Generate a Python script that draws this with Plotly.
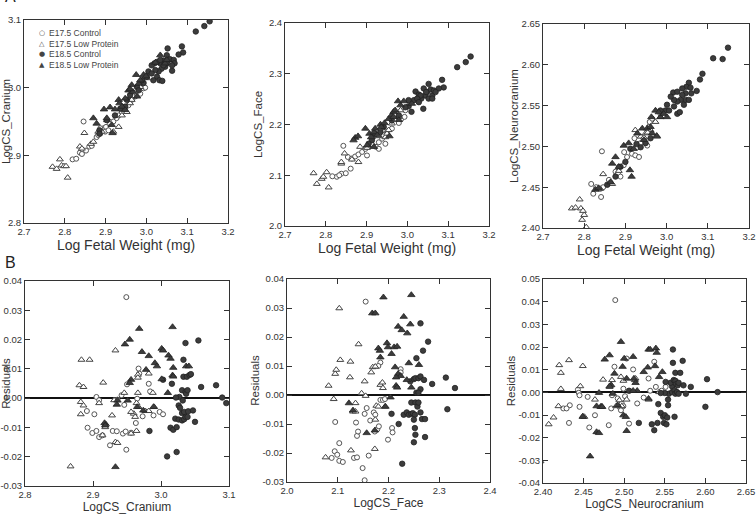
import plotly.graph_objects as go

# ---------------- DATA ----------------
series_names = ["E17.5 Control", "E17.5 Low Protein", "E18.5 Control", "E18.5 Low Protein"]
legend_glyphs = ["○", "△", "●", "▲"]

# Panel A1: Log Fetal Weight vs LogCS_Cranium
a1_c17_x = [2.846, 2.819, 2.828, 2.837, 2.844, 2.852, 2.860, 2.866, 2.842, 2.878, 2.882, 2.887, 2.891, 2.895, 2.901, 2.911, 2.919, 2.927, 2.932, 2.940, 2.948, 2.956, 2.964, 2.973, 2.985, 2.993, 2.997, 2.899, 2.907, 2.887]
a1_c17_y = [2.950, 2.894, 2.895, 2.904, 2.908, 2.907, 2.913, 2.914, 2.902, 2.927, 2.930, 2.932, 2.937, 2.940, 2.942, 2.947, 2.950, 2.955, 2.959, 2.964, 2.969, 2.974, 2.982, 2.987, 2.991, 2.999, 3.000, 2.935, 2.937, 2.940]
a1_l17_x = [2.770, 2.780, 2.788, 2.792, 2.798, 2.803, 2.807, 2.848, 2.837, 2.842, 2.864, 2.870, 2.882, 2.891, 2.903, 2.919, 2.932, 2.940, 2.952, 2.960, 2.968, 2.985, 3.001, 2.964]
a1_l17_y = [2.883, 2.880, 2.894, 2.885, 2.884, 2.884, 2.867, 2.933, 2.913, 2.910, 2.917, 2.920, 2.935, 2.935, 2.952, 2.935, 2.942, 2.959, 2.964, 2.977, 2.987, 3.001, 3.014, 2.982]
a1_c18_x = [3.155, 3.142, 3.121, 3.087, 3.090, 3.079, 3.052, 3.050, 3.063, 3.042, 3.034, 3.026, 3.020, 3.013, 3.005, 3.001, 3.026, 3.032, 3.039, 3.017, 2.993, 2.989, 3.054, 3.058, 3.067, 3.069, 3.046, 3.037, 3.030, 3.022, 3.013, 2.960, 2.952, 2.948, 2.936, 2.923, 2.903, 2.885, 2.885, 2.977, 2.981, 3.050, 3.042, 3.034, 3.063]
a1_c18_y = [3.098, 3.091, 3.083, 3.061, 3.052, 3.049, 3.058, 3.048, 3.025, 3.040, 3.036, 3.038, 3.036, 3.033, 3.024, 3.016, 3.016, 3.011, 3.010, 3.011, 3.007, 3.011, 3.041, 3.042, 3.041, 3.036, 3.031, 3.028, 3.024, 3.026, 3.021, 2.989, 2.982, 2.972, 2.969, 2.959, 2.952, 2.937, 2.932, 3.001, 2.996, 3.036, 3.033, 3.041, 3.033]
a1_l18_x = [2.870, 2.878, 2.896, 2.903, 2.915, 2.917, 2.911, 2.923, 2.932, 2.934, 2.940, 2.948, 2.956, 2.964, 2.967, 2.975, 2.981, 2.985, 2.993, 2.999, 3.022, 3.034, 3.046, 3.050, 2.977, 2.948, 2.960]
a1_l18_y = [2.955, 2.947, 2.968, 2.955, 2.945, 2.933, 2.971, 2.968, 2.982, 2.977, 2.972, 2.984, 2.996, 3.004, 2.994, 3.019, 3.006, 3.011, 3.019, 3.017, 3.037, 3.048, 3.036, 3.041, 2.987, 2.967, 2.998]

# Panel A2: Log Fetal Weight vs LogCS_Face
a2_c17_x = [2.843, 2.838, 2.827, 2.833, 2.816, 2.849, 2.861, 2.854, 2.864, 2.872, 2.880, 2.889, 2.897, 2.905, 2.913, 2.923, 2.930, 2.938, 2.942, 2.950, 2.962, 2.979, 2.985, 2.993, 2.995, 2.901, 2.930, 2.946]
a2_c17_y = [2.158, 2.103, 2.097, 2.100, 2.098, 2.104, 2.113, 2.136, 2.133, 2.137, 2.141, 2.146, 2.152, 2.157, 2.161, 2.156, 2.165, 2.172, 2.179, 2.185, 2.192, 2.203, 2.211, 2.215, 2.228, 2.139, 2.152, 2.162]
a2_l17_x = [2.770, 2.778, 2.790, 2.794, 2.802, 2.807, 2.838, 2.846, 2.838, 2.864, 2.880, 2.884, 2.901, 2.913, 2.930, 2.946, 2.950, 2.962, 2.979, 2.983, 2.954]
a2_l17_y = [2.104, 2.083, 2.093, 2.097, 2.106, 2.076, 2.123, 2.143, 2.126, 2.131, 2.126, 2.156, 2.154, 2.175, 2.177, 2.175, 2.182, 2.202, 2.215, 2.228, 2.189]
a2_c18_x = [3.155, 3.143, 3.122, 3.085, 3.089, 3.077, 3.052, 3.040, 3.020, 3.028, 3.016, 3.010, 3.003, 3.039, 3.044, 3.048, 3.057, 3.061, 3.065, 3.034, 3.032, 3.024, 3.052, 3.061, 3.069, 3.046, 3.028, 2.995, 2.979, 2.962, 2.942, 2.934, 2.921, 2.913, 2.905, 3.003]
a2_c18_y = [2.334, 2.323, 2.313, 2.288, 2.273, 2.271, 2.280, 2.271, 2.265, 2.259, 2.248, 2.225, 2.236, 2.231, 2.257, 2.264, 2.269, 2.257, 2.267, 2.251, 2.257, 2.251, 2.251, 2.251, 2.264, 2.264, 2.244, 2.234, 2.218, 2.208, 2.195, 2.185, 2.182, 2.169, 2.162, 2.248]
a2_l18_x = [2.872, 2.879, 2.868, 2.897, 2.901, 2.907, 2.911, 2.918, 2.921, 2.926, 2.934, 2.936, 2.944, 2.954, 2.961, 2.966, 2.977, 2.983, 2.991, 2.966, 2.970, 2.979, 2.918, 2.956, 3.011]
a2_l18_y = [2.174, 2.177, 2.169, 2.192, 2.159, 2.182, 2.175, 2.185, 2.192, 2.179, 2.200, 2.195, 2.203, 2.211, 2.218, 2.225, 2.246, 2.238, 2.246, 2.215, 2.228, 2.209, 2.156, 2.177, 2.241]

# Panel A3: Log Fetal Weight vs LogCS_Neurocranium
a3_c17_x = [2.843, 2.817, 2.822, 2.829, 2.839, 2.846, 2.841, 2.860, 2.864, 2.876, 2.884, 2.882, 2.888, 2.896, 2.897, 2.904, 2.916, 2.922, 2.924, 2.933, 2.937, 2.945, 2.957, 2.959, 2.953, 2.965, 2.985, 2.929]
a3_c17_y = [2.494, 2.454, 2.442, 2.450, 2.448, 2.450, 2.438, 2.459, 2.456, 2.469, 2.475, 2.467, 2.463, 2.477, 2.493, 2.487, 2.491, 2.510, 2.489, 2.487, 2.504, 2.508, 2.524, 2.530, 2.501, 2.534, 2.540, 2.499]
a3_l17_x = [2.770, 2.779, 2.789, 2.792, 2.797, 2.800, 2.795, 2.805, 2.846, 2.839, 2.868, 2.884, 2.924, 2.937, 2.945, 2.949, 2.961, 2.973, 2.985, 2.954, 2.977]
a3_l17_y = [2.424, 2.425, 2.435, 2.424, 2.421, 2.416, 2.410, 2.401, 2.466, 2.448, 2.454, 2.470, 2.520, 2.512, 2.511, 2.516, 2.520, 2.530, 2.536, 2.517, 2.512]
a3_c18_x = [3.149, 3.113, 3.136, 3.087, 3.081, 3.073, 3.054, 3.048, 3.058, 3.046, 3.046, 3.038, 3.034, 3.026, 3.018, 3.016, 3.010, 3.001, 2.997, 3.006, 3.018, 3.026, 3.032, 3.042, 3.054, 3.060, 3.038, 3.026, 2.961, 2.949, 2.937, 2.927, 2.912, 2.900, 2.888, 2.876, 2.856, 2.985]
a3_c18_y = [2.621, 2.608, 2.607, 2.589, 2.582, 2.568, 2.578, 2.573, 2.572, 2.565, 2.557, 2.563, 2.557, 2.555, 2.557, 2.566, 2.561, 2.551, 2.544, 2.544, 2.549, 2.540, 2.542, 2.551, 2.557, 2.565, 2.571, 2.567, 2.510, 2.504, 2.499, 2.503, 2.497, 2.481, 2.475, 2.463, 2.453, 2.544]
a3_l18_x = [2.827, 2.835, 2.864, 2.868, 2.876, 2.896, 2.884, 2.911, 2.915, 2.908, 2.920, 2.929, 2.941, 2.953, 2.961, 2.963, 2.973, 2.981, 2.985, 2.993, 3.001, 2.976, 2.965, 2.945]
a3_l18_y = [2.447, 2.449, 2.456, 2.479, 2.487, 2.501, 2.475, 2.471, 2.463, 2.504, 2.497, 2.516, 2.522, 2.522, 2.524, 2.536, 2.544, 2.542, 2.536, 2.540, 2.536, 2.513, 2.516, 2.508]

# Panel B1: LogCS_Cranium vs Residuals
b1_c17_x = [2.949, 2.891, 2.902, 2.892, 2.899, 2.905, 2.909, 2.914, 2.905, 2.909, 2.925, 2.929, 2.935, 2.944, 2.948, 2.956, 2.949, 2.946, 2.936, 2.942, 2.950, 2.963, 2.968, 2.967, 2.973, 2.984, 2.989, 2.998, 3.003, 2.982, 2.965]
b1_c17_y = [0.0345, -0.0044, -0.0055, -0.0101, -0.0119, -0.0112, -0.0133, -0.0127, 0.0004, -0.0007, -0.0161, -0.0112, -0.0113, -0.0121, -0.0114, -0.0118, -0.0176, -0.0023, -0.0005, 0.0010, 0.0047, -0.0085, 0.0084, 0.0101, -0.0062, 0.0023, -0.0059, -0.0047, -0.0055, 0.0049, -0.0002]
b1_l17_x = [2.867, 2.880, 2.886, 2.882, 2.886, 2.882, 2.883, 2.895, 2.909, 2.915, 2.919, 2.914, 2.918, 2.928, 2.933, 2.931, 2.933, 2.936, 2.946, 2.956, 2.960, 2.962, 2.964, 2.964, 2.966, 2.966, 2.966, 2.967, 2.977, 2.982, 2.982, 2.988, 2.990, 2.956]
b1_l17_y = [-0.0233, 0.0044, 0.0038, -0.0013, -0.0025, -0.0055, 0.0131, 0.0131, -0.0017, 0.0053, -0.0089, -0.0127, -0.0099, -0.0059, 0.0163, -0.0007, -0.0150, -0.0153, 0.0018, -0.0121, -0.0053, -0.0064, -0.0017, -0.0112, 0.0080, 0.0070, 0.0018, -0.0030, -0.0044, 0.0084, -0.0044, 0.0018, -0.0030, -0.0047]
b1_c18_x = [3.009, 3.023, 2.983, 3.014, 3.018, 3.023, 3.021, 3.026, 3.031, 3.034, 3.036, 3.039, 3.031, 3.034, 3.040, 3.047, 3.050, 3.027, 3.031, 3.036, 3.037, 3.039, 3.022, 3.026, 3.028, 3.032, 3.033, 3.038, 3.042, 3.044, 3.033, 3.036, 3.055, 3.059, 3.081, 3.090, 3.096, 3.003, 3.016]
b1_c18_y = [-0.0199, -0.0184, -0.0112, -0.0101, -0.0108, -0.0099, -0.0070, -0.0073, -0.0076, -0.0072, -0.0064, -0.0064, -0.0051, -0.0047, -0.0045, -0.0042, -0.0081, 0.0004, 0.0027, 0.0021, 0.0015, 0.0027, 0.0002, -0.0025, -0.0033, -0.0008, 0.0073, 0.0073, 0.0079, 0.0082, 0.0131, 0.0188, 0.0197, 0.0038, 0.0044, 0.0002, -0.0017, 0.0063, 0.0049]
b1_l18_x = [2.968, 3.017, 2.954, 2.947, 2.972, 2.982, 2.991, 2.994, 3.001, 3.003, 3.011, 3.014, 3.018, 3.017, 3.018, 3.001, 2.978, 2.956, 2.954, 3.010, 2.936, 2.935, 2.951, 2.965, 2.989, 2.933, 2.917, 2.918, 3.037, 3.041, 2.974]
b1_l18_y = [0.0237, 0.0243, 0.0200, 0.0184, 0.0158, 0.0144, 0.0120, 0.0109, 0.0169, 0.0163, 0.0146, 0.0135, 0.0104, 0.0078, 0.0074, 0.0065, 0.0097, 0.0063, 0.0052, 0.0018, -0.0008, -0.0022, -0.0008, -0.0030, -0.0030, -0.0235, -0.0085, -0.0093, 0.0109, 0.0109, -0.0042]

# Panel B2: LogCS_Face vs Residuals
b2_c17_x = [2.155, 2.095, 2.103, 2.094, 2.099, 2.103, 2.110, 2.088, 2.132, 2.138, 2.138, 2.140, 2.136, 2.149, 2.153, 2.161, 2.157, 2.164, 2.153, 2.171, 2.174, 2.173, 2.178, 2.181, 2.184, 2.189, 2.193, 2.184, 2.180, 2.199, 2.207, 2.208, 2.224, 2.224]
b2_c17_y = [0.0322, -0.0093, -0.0166, -0.0194, -0.0206, -0.0227, -0.0231, -0.0217, -0.0217, -0.0215, -0.0141, -0.0126, -0.0095, -0.0252, -0.0294, -0.0209, -0.0045, -0.0088, -0.0065, -0.0060, -0.0068, -0.0126, -0.0118, -0.0108, -0.0017, -0.0017, -0.0014, 0.0112, 0.0100, -0.0154, -0.0114, -0.0129, 0.0089, 0.0078]
b2_l17_x = [2.076, 2.082, 2.092, 2.095, 2.097, 2.103, 2.105, 2.125, 2.124, 2.126, 2.130, 2.135, 2.135, 2.141, 2.147, 2.153, 2.155, 2.166, 2.169, 2.176, 2.174, 2.173, 2.180, 2.184, 2.188, 2.189, 2.174, 2.193]
b2_l17_y = [-0.0215, 0.0032, -0.0014, 0.0073, 0.0087, 0.0299, 0.0121, 0.0115, 0.0061, -0.0191, -0.0057, -0.0028, -0.0057, 0.0175, 0.0006, 0.0047, -0.0003, 0.0078, 0.0096, -0.0037, -0.0085, -0.0186, -0.0040, 0.0035, 0.0043, 0.0024, 0.0098, -0.0040]
b2_c18_x = [2.227, 2.206, 2.220, 2.230, 2.236, 2.240, 2.245, 2.248, 2.252, 2.250, 2.252, 2.253, 2.250, 2.263, 2.266, 2.272, 2.272, 2.245, 2.253, 2.257, 2.259, 2.243, 2.250, 2.253, 2.259, 2.263, 2.270, 2.263, 2.255, 2.259, 2.255, 2.268, 2.263, 2.278, 2.286, 2.313, 2.316, 2.331]
b2_c18_y = [-0.0237, -0.0065, -0.0100, -0.0068, -0.0060, -0.0068, -0.0065, -0.0063, -0.0068, -0.0085, -0.0114, -0.0137, -0.0163, -0.0060, -0.0083, -0.0083, -0.0145, -0.0026, -0.0026, -0.0040, -0.0026, 0.0047, 0.0055, 0.0058, 0.0058, 0.0064, 0.0052, 0.0020, 0.0008, 0.0008, 0.0127, 0.0153, 0.0247, 0.0184, 0.0038, 0.0060, -0.0049, 0.0024]
b2_l18_x = [2.190, 2.245, 2.168, 2.174, 2.230, 2.243, 2.219, 2.226, 2.237, 2.180, 2.183, 2.197, 2.199, 2.211, 2.217, 2.206, 2.184, 2.213, 2.219, 2.224, 2.240, 2.260, 2.215, 2.215, 2.217, 2.245, 2.236, 2.204, 2.194, 2.157, 2.173, 2.130, 2.122]
b2_l18_y = [0.0337, 0.0345, 0.0282, 0.0282, 0.0270, 0.0244, 0.0236, 0.0224, 0.0213, 0.0161, 0.0153, 0.0179, 0.0165, 0.0165, 0.0167, 0.0142, 0.0130, 0.0096, 0.0073, 0.0066, 0.0110, 0.0104, 0.0061, 0.0032, 0.0026, 0.0026, 0.0052, -0.0008, -0.0040, -0.0131, -0.0122, -0.0053, -0.0028]

# Panel B3: LogCS_Neurocranium vs Residuals
b3_c17_x = [2.489, 2.443, 2.444, 2.445, 2.433, 2.425, 2.429, 2.432, 2.445, 2.455, 2.457, 2.464, 2.481, 2.484, 2.485, 2.488, 2.492, 2.494, 2.496, 2.497, 2.499, 2.499, 2.501, 2.506, 2.511, 2.516, 2.524, 2.530, 2.532, 2.537, 2.539, 2.546, 2.551, 2.503]
b3_c17_y = [0.0407, 0.0012, -0.0002, -0.0013, -0.0057, -0.0071, -0.0071, -0.0135, -0.0064, -0.0020, -0.0155, -0.0101, -0.0145, -0.0071, -0.0013, 0.0113, -0.0027, -0.0064, -0.0079, -0.0049, 0.0016, -0.0061, -0.0017, -0.0138, 0.0101, -0.0049, -0.0023, 0.0061, 0.0007, 0.0135, 0.0024, 0.0007, 0.0024, 0.0149]
b3_l17_x = [2.397, 2.407, 2.413, 2.419, 2.420, 2.422, 2.422, 2.432, 2.446, 2.451, 2.449, 2.449, 2.464, 2.472, 2.474, 2.482, 2.485, 2.490, 2.494, 2.496, 2.497, 2.499, 2.503, 2.513, 2.514, 2.530, 2.543]
b3_l17_y = [-0.0304, -0.0141, -0.0111, -0.0061, 0.0120, 0.0086, 0.0015, 0.0142, 0.0027, -0.0108, -0.0105, 0.0116, -0.0032, -0.0061, 0.0056, 0.0024, 0.0054, -0.0061, -0.0035, 0.0068, -0.0061, 0.0051, -0.0032, 0.0054, 0.0061, -0.0032, 0.0001]
b3_c18_x = [2.518, 2.534, 2.537, 2.541, 2.542, 2.545, 2.548, 2.549, 2.550, 2.553, 2.552, 2.554, 2.554, 2.555, 2.550, 2.545, 2.559, 2.559, 2.557, 2.561, 2.563, 2.564, 2.566, 2.567, 2.562, 2.563, 2.565, 2.563, 2.560, 2.560, 2.562, 2.567, 2.569, 2.572, 2.573, 2.576, 2.582, 2.602, 2.600, 2.615, 2.551, 2.506]
b3_c18_y = [-0.0135, -0.0141, -0.0167, -0.0135, -0.0052, -0.0091, -0.0108, -0.0135, -0.0101, -0.0111, -0.0141, -0.0032, -0.0057, -0.0006, -0.0003, -0.0003, 0.0001, 0.0026, 0.0042, 0.0054, 0.0051, 0.0036, 0.0031, 0.0042, 0.0009, -0.0006, 0.0001, 0.0086, 0.0130, 0.0189, -0.0108, -0.0006, 0.0086, 0.0139, 0.0031, -0.0006, 0.0024, 0.0058, -0.0064, 0.0001, 0.0046, 0.0007]
b3_l18_x = [2.496, 2.530, 2.532, 2.539, 2.540, 2.547, 2.538, 2.543, 2.529, 2.524, 2.511, 2.500, 2.498, 2.503, 2.512, 2.514, 2.488, 2.476, 2.482, 2.469, 2.466, 2.471, 2.466, 2.486, 2.484, 2.492, 2.499, 2.502, 2.503, 2.458, 2.449, 2.530, 2.516, 2.511, 2.482, 2.473, 2.469]
b3_l18_y = [0.0223, 0.0189, 0.0189, 0.0194, 0.0175, 0.0090, 0.0116, 0.0068, 0.0110, 0.0090, 0.0157, 0.0149, 0.0113, 0.0061, 0.0061, 0.0042, 0.0083, 0.0145, 0.0164, -0.0002, -0.0061, -0.0064, -0.0175, -0.0006, 0.0032, -0.0057, -0.0101, -0.0108, -0.0170, -0.0282, -0.0108, -0.0028, 0.0007, 0.0007, 0.0027, -0.0064, -0.0179]

panels = [
    dict(series=[(a1_c17_x, a1_c17_y), (a1_l17_x, a1_l17_y), (a1_c18_x, a1_c18_y), (a1_l18_x, a1_l18_y)],
         xr=[2.7, 3.2], xt=[2.7, 2.8, 2.9, 3.0, 3.1, 3.2], xf="{:.1f}",
         yr=[2.8, 3.1], yt=[2.8, 2.9, 3.0, 3.1], yf="{:.1f}",
         xtitle="Log Fetal Weight (mg)", ytitle="LogCS_Cranium"),
    dict(series=[(a2_c17_x, a2_c17_y), (a2_l17_x, a2_l17_y), (a2_c18_x, a2_c18_y), (a2_l18_x, a2_l18_y)],
         xr=[2.7, 3.2], xt=[2.7, 2.8, 2.9, 3.0, 3.1, 3.2], xf="{:.1f}",
         yr=[2.0, 2.4], yt=[2.0, 2.1, 2.2, 2.3, 2.4], yf="{:.1f}",
         xtitle="Log Fetal Weight (mg)", ytitle="LogCS_Face"),
    dict(series=[(a3_c17_x, a3_c17_y), (a3_l17_x, a3_l17_y), (a3_c18_x, a3_c18_y), (a3_l18_x, a3_l18_y)],
         xr=[2.7, 3.2], xt=[2.7, 2.8, 2.9, 3.0, 3.1, 3.2], xf="{:.1f}",
         yr=[2.40, 2.65], yt=[2.40, 2.45, 2.50, 2.55, 2.60, 2.65], yf="{:.2f}",
         xtitle="Log Fetal Weight (mg)", ytitle="LogCS_Neurocranium"),
    dict(series=[(b1_c17_x, b1_c17_y), (b1_l17_x, b1_l17_y), (b1_c18_x, b1_c18_y), (b1_l18_x, b1_l18_y)],
         xr=[2.8, 3.1], xt=[2.8, 2.9, 3.0, 3.1], xf="{:.1f}",
         yr=[-0.03, 0.04], yt=[-0.03, -0.02, -0.01, 0.0, 0.01, 0.02, 0.03, 0.04], yf="{:.2f}",
         xtitle="LogCS_Cranium", ytitle="Residuals"),
    dict(series=[(b2_c17_x, b2_c17_y), (b2_l17_x, b2_l17_y), (b2_c18_x, b2_c18_y), (b2_l18_x, b2_l18_y)],
         xr=[2.0, 2.4], xt=[2.0, 2.1, 2.2, 2.3, 2.4], xf="{:.1f}",
         yr=[-0.03, 0.04], yt=[-0.03, -0.02, -0.01, 0.0, 0.01, 0.02, 0.03, 0.04], yf="{:.2f}",
         xtitle="LogCS_Face", ytitle="Residuals"),
    dict(series=[(b3_c17_x, b3_c17_y), (b3_l17_x, b3_l17_y), (b3_c18_x, b3_c18_y), (b3_l18_x, b3_l18_y)],
         xr=[2.40, 2.65], xt=[2.40, 2.45, 2.50, 2.55, 2.60, 2.65], xf="{:.2f}",
         yr=[-0.04, 0.05], yt=[-0.04, -0.03, -0.02, -0.01, 0.0, 0.01, 0.02, 0.03, 0.04, 0.05], yf="{:.2f}",
         xtitle="LogCS_Neurocranium", ytitle="Residuals"),
]

# ---------------- LAYOUT ----------------
W, H = 756, 514
boxes = [  # (left, right, top, bottom) in px
    (24, 228, 20, 223),
    (285, 489, 23, 226),
    (543, 749, 24, 228),
    (25, 229, 281, 486),
    (287, 490, 279, 482),
    (543, 746, 279, 483),
]
ytitle_standoff = [0, 3, 0, 0, 0, 0]

styles = [
    dict(symbol="circle", size=5, color="white", line=dict(color="#555555", width=1)),
    dict(symbol="triangle-up", size=6, color="white", line=dict(color="#444444", width=1)),
    dict(symbol="circle", size=5.5, color="#3c3c3c", line=dict(color="#222222", width=0.8)),
    dict(symbol="triangle-up", size=6.5, color="#3c3c3c", line=dict(color="#222222", width=0.8)),
]

fig = go.Figure()
font_family = "Arial, Liberation Sans, sans-serif"
axis_common = dict(
    showgrid=False, showline=True, linecolor="#333333", linewidth=1, mirror="ticks",
    ticks="inside", ticklen=5, tickcolor="#333333", tickwidth=1, automargin=False,
    ticklabeloverflow="allow",
    tickfont=dict(family=font_family, size=9.5, color="#333333"), zeroline=False,
)


def fmt(vals, f):
    return [f.format(v).replace("-0.00", "0.00") for v in vals]


for i, p in enumerate(panels):
    xa = "x" if i == 0 else f"x{i+1}"
    ya = "y" if i == 0 else f"y{i+1}"
    for j, (xs, ys) in enumerate(p["series"]):
        fig.add_trace(go.Scatter(
            x=xs, y=ys, mode="markers", name=series_names[j],
            marker=styles[j], xaxis=xa, yaxis=ya, showlegend=False,
        ))
    l, r, t, b = boxes[i]
    xkey = "xaxis" if i == 0 else f"xaxis{i+1}"
    ykey = "yaxis" if i == 0 else f"yaxis{i+1}"
    is_b = i >= 3
    xtitle_size = 12 if is_b else 14
    fig.layout[xkey] = dict(
        axis_common, domain=[l / W, r / W], range=p["xr"], tickvals=p["xt"], ticktext=fmt(p["xt"], p["xf"]),
        anchor=ya, title=dict(text=p["xtitle"], font=dict(family=font_family, size=xtitle_size, color="#333333"),
                              standoff=3 if is_b else 2),
    )
    yd = dict(axis_common, domain=[1 - b / H, 1 - t / H], range=p["yr"], tickvals=p["yt"], ticktext=fmt(p["yt"], p["yf"]),
              anchor=xa, title=dict(text=p["ytitle"], font=dict(family=font_family, size=11.5, color="#333333"),
                                    standoff=ytitle_standoff[i]))
    if is_b:
        yd.update(zeroline=True, zerolinecolor="#111111", zerolinewidth=2)
    fig.layout[ykey] = yd

# legend drawn as text rows inside panel A1
legend_rows_y = [33, 44, 54, 65]
annotations = []
for name, glyph, ry in zip(series_names, legend_glyphs, legend_rows_y):
    annotations.append(dict(text=glyph, x=42 / W, y=1 - ry / H, xref="paper", yref="paper",
                            xanchor="center", yanchor="middle", showarrow=False,
                            font=dict(family="DejaVu Sans", size=7, color="#444444")))
    annotations.append(dict(text=name, x=47 / W, y=1 - ry / H, xref="paper", yref="paper",
                            xanchor="left", yanchor="middle", showarrow=False,
                            font=dict(family=font_family, size=8.5, color="#444444")))
annotations += [
    dict(text="A", x=10 / W, y=1 + 4 / H, xref="paper", yref="paper", xanchor="center", yanchor="middle",
         showarrow=False, font=dict(family=font_family, size=16, color="#222222")),
    dict(text="B", x=10 / W, y=1 - 262 / H, xref="paper", yref="paper", xanchor="center", yanchor="middle",
         showarrow=False, font=dict(family=font_family, size=16, color="#222222")),
]

fig.update_layout(
    width=W, height=H, margin=dict(l=0, r=0, t=0, b=0),
    paper_bgcolor="white", plot_bgcolor="white", showlegend=False,
    annotations=annotations,
)

fig.write_html("out.html")
